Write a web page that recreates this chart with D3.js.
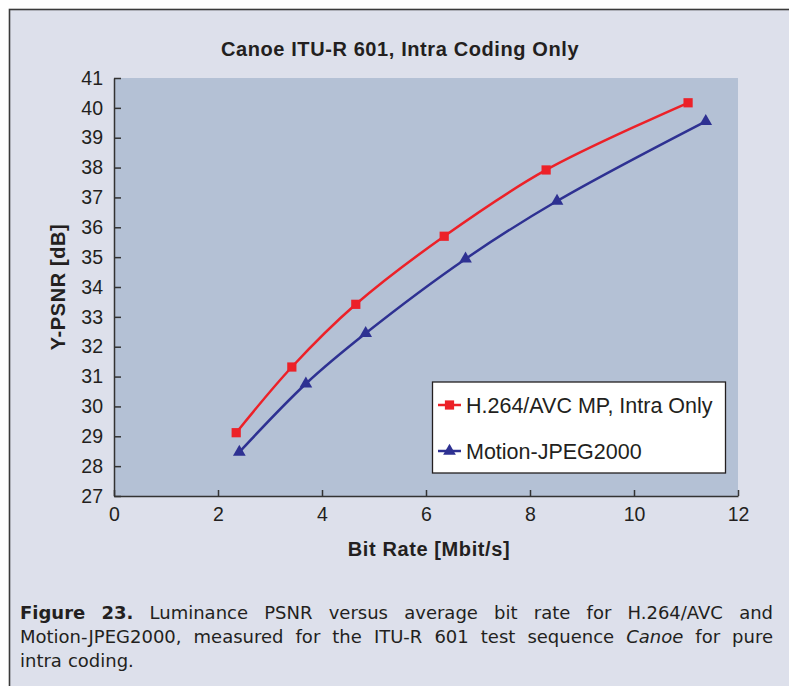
<!DOCTYPE html>
<html>
<head>
<meta charset="utf-8">
<script src="https://cdn.jsdelivr.net/npm/d3@7"></script>
<style>
  body { margin: 0; background: #fff; }
  svg { display: block; }
  .tick text { font-family: "Liberation Sans", Arial, sans-serif; font-size: 19.5px; fill: #231f20; }
  .tick line, .domain { stroke: #333; stroke-width: 1.5px; }
  .lbl { font-family: "Liberation Sans", Arial, sans-serif; font-weight: bold; font-size: 20px; letter-spacing: 0.6px; fill: #231f20; }
  .leg { font-family: "Liberation Sans", Arial, sans-serif; font-size: 21.5px; fill: #231f20; }
  .cap { font-family: "DejaVu Sans", sans-serif; font-size: 18px; fill: #231f20; }
</style>
</head>
<body>
<svg width="789" height="686"></svg>
<script>
// values
var ratesH264 = [2.35, 3.42, 4.65, 6.35, 8.31, 11.04];
var psnrH264  = [29.12, 31.32, 33.42, 35.70, 37.92, 40.17];
var ratesMj2k = [2.41, 3.69, 4.84, 6.76, 8.52, 11.38];
var psnrMj2k  = [28.47, 30.76, 32.45, 34.94, 36.88, 39.55];
var xTicks = [0, 2, 4, 6, 8, 10, 12];
var yTicks = [27, 28, 29, 30, 31, 32, 33, 34, 35, 36, 37, 38, 39, 40, 41];
var seriesNames = ['H.264/AVC MP, Intra Only', 'Motion-JPEG2000'];
var captionLines = [
  ['*Figure', '*23.', 'Luminance', 'PSNR', 'versus', 'average', 'bit', 'rate', 'for', 'H.264/AVC', 'and'],
  ['Motion-JPEG2000,', 'measured', 'for', 'the', 'ITU-R', '601', 'test', 'sequence', '_Canoe', 'for', 'pure'],
  ['intra', 'coding.']
];

(function() {
  var svg = d3.select('svg');

  // figure panel
  svg.append('rect')
    .attr('x', 9.5).attr('y', 9.5).attr('width', 800).attr('height', 700)
    .attr('fill', '#dde0eb').attr('stroke', '#3a3a3a').attr('stroke-width', 1.6);

  var pLeft = 114, pRight = 738, pTop = 78, pBottom = 496;

  var x = d3.scaleLinear().domain([0, 12]).range([pLeft, pRight]);
  var y = d3.scaleLinear().domain([27, 41]).range([pBottom, pTop]);

  svg.append('rect')
    .attr('x', pLeft).attr('y', pTop)
    .attr('width', pRight - pLeft).attr('height', pBottom - pTop)
    .attr('fill', '#b4c1d5');

  svg.append('g')
    .attr('transform', 'translate(0,' + pBottom + ')')
    .call(d3.axisBottom(x).tickValues(xTicks).tickSizeInner(-6).tickSizeOuter(0).tickPadding(11));

  svg.append('g')
    .attr('transform', 'translate(' + pLeft + ',0)')
    .call(d3.axisLeft(y).tickValues(yTicks).tickSizeInner(-7).tickSizeOuter(0).tickPadding(11));

  svg.append('text').attr('class', 'lbl')
    .attr('x', 400).attr('y', 56).attr('text-anchor', 'middle')
    .text('Canoe ITU-R 601, Intra Coding Only');

  svg.append('text').attr('class', 'lbl')
    .attr('x', 429).attr('y', 556).attr('text-anchor', 'middle')
    .text('Bit Rate [Mbit/s]');

  svg.append('text').attr('class', 'lbl')
    .attr('transform', 'translate(65,' + ((pTop + pBottom) / 2) + ') rotate(-90)')
    .attr('text-anchor', 'middle')
    .text('Y-PSNR [dB]');

  var red = '#ec2128', blue = '#2e3192';
  var line = d3.line()
    .x(function(d) { return x(d[0]); })
    .y(function(d) { return y(d[1]); })
    .curve(d3.curveCatmullRom);

  var series = [
    { pts: d3.zip(ratesH264, psnrH264), color: red, symbol: d3.symbolSquare, size: 85 },
    { pts: d3.zip(ratesMj2k, psnrMj2k), color: blue, symbol: d3.symbolTriangle, size: 70 }
  ];

  series.forEach(function(s) {
    svg.append('path')
      .attr('d', line(s.pts))
      .attr('fill', 'none')
      .attr('stroke', s.color)
      .attr('stroke-width', 2.5);
    svg.selectAll(null).data(s.pts).enter().append('path')
      .attr('transform', function(d) { return 'translate(' + x(d[0]) + ',' + y(d[1]) + ')'; })
      .attr('d', d3.symbol().type(s.symbol).size(s.size))
      .attr('fill', s.color);
  });

  // legend
  var leg = svg.append('g');
  leg.append('rect')
    .attr('x', 432.5).attr('y', 382).attr('width', 293).attr('height', 91)
    .attr('fill', '#fff').attr('stroke', '#231f20').attr('stroke-width', 1.3);
  [405, 451].forEach(function(ly, i) {
    var s = series[i];
    leg.append('line').attr('x1', 438).attr('x2', 461).attr('y1', ly).attr('y2', ly)
      .attr('stroke', s.color).attr('stroke-width', 2.5);
    leg.append('path').attr('transform', 'translate(449.5,' + ly + ')')
      .attr('d', d3.symbol().type(s.symbol).size(s.size)).attr('fill', s.color);
    leg.append('text').attr('class', 'leg')
      .attr('x', 466).attr('y', ly + 8)
      .text(seriesNames[i]);
  });

  // caption, justified by hand
  var capLeft = 20, capRight = 773, baselines = [619, 643, 667];
  captionLines.forEach(function(words, li) {
    var nodes = words.map(function(w) {
      var t = svg.append('text').attr('class', 'cap').attr('y', baselines[li]);
      if (w[0] === '*') { t.attr('font-weight', 'bold'); w = w.slice(1); }
      else if (w[0] === '_') { t.attr('font-style', 'italic'); w = w.slice(1); }
      t.text(w);
      return t;
    });
    var widths = nodes.map(function(n) { return n.node().getComputedTextLength(); });
    var total = d3.sum(widths);
    var gap = li < captionLines.length - 1 ? (capRight - capLeft - total) / (words.length - 1) : 6;
    var cx = capLeft;
    nodes.forEach(function(n, i) { n.attr('x', cx); cx += widths[i] + gap; });
  });
})();
</script>
</body>
</html>
